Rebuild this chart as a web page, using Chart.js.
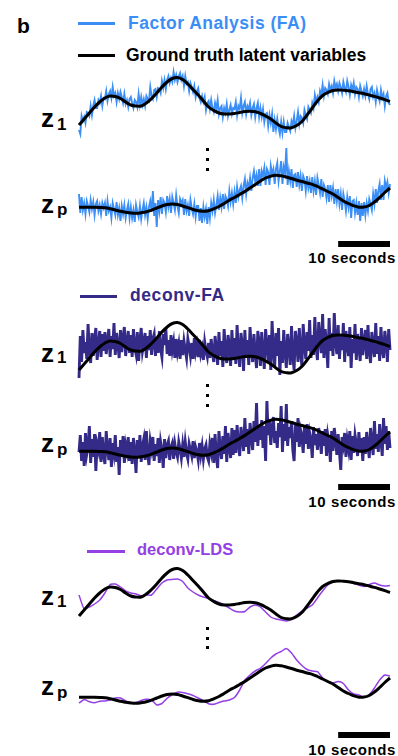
<!DOCTYPE html>
<html>
<head>
<meta charset="utf-8">
<script src="https://cdn.jsdelivr.net/npm/chart.js@4.4.1/dist/chart.umd.min.js"></script>
<style>
  body { margin: 0; background: #fff; width: 398px; height: 756px; position: relative; overflow: hidden;
         font-family: "Liberation Sans", Arial, sans-serif; font-weight: bold; }
  .t { position: absolute; white-space: nowrap; }
  .key { position: absolute; height: 3px; }
  .dot { position: absolute; width: 3px; height: 3px; background: #000; left: 206px; }
  .z { position: absolute; left: 41px; font-size: 26px; line-height: 26px; }
  .sub { position: absolute; left: 57px; font-size: 17px; line-height: 17px; }
  .sec { position: absolute; right: 2px; font-size: 15px; line-height: 15px; letter-spacing: 0.6px; }
  canvas { position: absolute; left: 74px; }
</style>
</head>
<body>

<div class="t" style="left:17px;top:15px;font-size:21px;line-height:21px;">b</div>

<!-- panel 1 legend -->
<div class="key" style="left:78px;top:22px;width:37px;background:#3a8ef6;"></div>
<div class="t" style="left:128px;top:15px;font-size:17.5px;line-height:17.5px;letter-spacing:0.5px;color:#3a8ef6;">Factor Analysis (FA)</div>
<div class="key" style="left:78px;top:54px;width:37px;background:#000;"></div>
<div class="t" style="left:126px;top:47px;font-size:17.5px;line-height:17.5px;color:#000;">Ground truth latent variables</div>

<!-- panel 2 legend -->
<div class="key" style="left:80px;top:295px;width:37px;background:#342a87;"></div>
<div class="t" style="left:130px;top:287px;font-size:17.5px;line-height:17.5px;letter-spacing:0.6px;color:#342a87;">deconv-FA</div>

<!-- panel 3 legend -->
<div class="key" style="left:87px;top:550px;width:38px;height:2.5px;background:#9440e4;"></div>
<div class="t" style="left:137px;top:541px;font-size:16.5px;line-height:16.5px;color:#9440e4;">deconv-LDS</div>

<!-- row labels -->
<div class="z" style="top:105px;">z</div><div class="sub" style="top:116px;">1</div>
<div class="z" style="top:191px;">z</div><div class="sub" style="top:201px;">p</div>
<div class="z" style="top:340px;">z</div><div class="sub" style="top:349px;">1</div>
<div class="z" style="top:430px;">z</div><div class="sub" style="top:441px;">p</div>
<div class="z" style="top:583px;">z</div><div class="sub" style="top:593px;">1</div>
<div class="z" style="top:673px;">z</div><div class="sub" style="top:684px;">p</div>

<!-- vertical ellipsis between z1 and zp -->
<div class="dot" style="top:148px;"></div><div class="dot" style="top:158px;"></div><div class="dot" style="top:168px;"></div>
<div class="dot" style="top:384px;"></div><div class="dot" style="top:394px;"></div><div class="dot" style="top:404px;"></div>
<div class="dot" style="top:627px;"></div><div class="dot" style="top:637px;"></div><div class="dot" style="top:646px;"></div>

<!-- scale bar captions -->
<div class="sec" style="top:250px;">10 seconds</div>
<div class="sec" style="top:494px;">10 seconds</div>
<div class="sec" style="top:742px;">10 seconds</div>

<canvas id="c1a" width="321" height="90" style="top:55px;"></canvas>
<canvas id="c1b" width="321" height="112" style="top:140px;"></canvas>
<canvas id="c2a" width="321" height="90" style="top:300px;"></canvas>
<canvas id="c2b" width="321" height="112" style="top:384px;"></canvas>
<canvas id="c3a" width="321" height="90" style="top:546px;"></canvas>
<canvas id="c3b" width="321" height="112" style="top:630px;"></canvas>

<script>
// time axis (seconds) and scale bar span
const tMax = 60;
const barFrom = 50, barTo = 60;

// ground truth latents, 1 s apart
const gtStep = 1;
const gtZ1 = [10,16,22,28,33,37,39,38.5,36.5,33,30,
  29,29,32,36.5,42,48,53,56.5,57.5,55.5,
  51,45.5,40,34,28,24.5,22,21,21,21.5,
  22.5,23.5,23.8,23.3,21.5,19,16,12,8.5,7.3,
  7.2,9.5,13.5,20,27,34,39.5,42.5,44.5,45,
  44.8,44.3,43.3,42.3,41.3,40,38.6,37,35.3,33.5];
const gtZp = [12.7,12.8,12.8,12.7,12.5,12.2,11.3,10,8.7,7.8,7,
  6.7,7.3,8.2,9.8,12,14,15.5,16,15.5,14,
  12.3,10.5,9.3,8.8,9.3,11.2,13.5,16.5,19.8,22.5,
  25.5,28.5,32,35.5,39,42,43.8,44.7,44.2,43,
  41.5,39.8,38.5,37,35.7,33.5,31,28.5,26,22.5,
  19,16.5,14.2,12.8,12.9,14.5,18,22.5,27.5,32];

// FA and deconv-FA estimates, 0.25 s apart (one row = 5 s)
const noisyStep = 0.25;
const faZ1 = [
  5,1,19,14,18,12,23,22,19,29,20,29,35,27,27,35,32,39,29,37,
  36,44,34,41,44,37,48,39,42,33,42,36,43,38,32,41,31,35,28,36,
  38,32,27,35,33,28,41,30,38,30,36,29,39,36,34,48,39,36,45,46,
  38,47,46,42,54,47,55,46,55,59,52,57,53,63,55,60,53,59,62,55,
  59,49,59,51,53,44,52,48,43,49,38,44,47,37,33,39,33,38,25,32,
  34,26,35,27,23,32,26,35,21,27,29,18,27,22,31,19,25,30,21,27,
  26,33,20,29,26,37,22,29,33,21,29,26,32,20,27,31,18,27,32,18,
  27,18,26,13,21,22,9,20,12,21,3,15,6,16,7,1,13,2,13,3,
  3,12,8,4,14,10,19,7,14,23,11,19,17,12,25,20,16,28,25,22,
  32,27,40,33,38,33,44,40,50,39,47,45,41,51,45,49,42,54,47,51,
  44,52,48,42,53,47,43,54,48,40,50,45,52,41,48,46,38,49,44,39,
  46,39,49,41,36,46,48,38,42,33,45,39,34,45,37,41,29,39,42,32,
  30];
const faZp = [
  26,7,23,10,17,6,19,14,8,20,11,18,5,16,19,9,15,6,17,12,
  17,4,19,9,13,2,17,11,5,18,5,12,-1,14,6,15,2,10,16,2,
  13,2,10,-2,15,8,3,14,1,10,17,5,13,1,13,19,8,29,4,17,
  -7,20,9,23,6,20,17,8,24,13,21,7,23,17,10,25,14,7,21,17,
  20,5,21,9,15,4,20,12,6,16,3,14,14,-1,12,-3,13,3,11,-4,
  13,2,17,9,20,7,15,24,10,22,13,26,11,24,21,14,29,18,27,16,
  28,17,33,23,30,34,22,34,41,26,37,32,42,29,42,49,38,45,34,51,
  34,49,44,52,35,51,48,35,54,46,51,36,51,57,39,49,59,36,53,47,
  72,35,49,39,51,32,45,46,33,48,35,44,29,44,40,29,44,32,39,27,
  43,29,39,25,42,35,27,41,23,35,31,22,35,18,35,24,32,16,31,19,
  31,16,26,10,26,19,9,23,13,24,2,19,20,7,17,5,19,-1,17,4,
  18,5,17,9,21,16,10,26,16,31,17,29,36,20,35,20,39,32,38,27,
  36];
const dfaZ1 = [
  2,44,18,50,27,38,21,56,30,17,47,24,41,52,20,35,49,23,46,29,
  48,26,39,51,23,44,31,57,25,47,36,22,50,28,42,53,24,38,49,27,
  45,23,51,33,26,48,19,40,52,29,37,47,22,44,30,50,25,41,46,24,
  43,27,49,31,23,46,35,52,26,40,24,45,30,38,22,41,28,36,21,40,
  25,39,30,22,41,33,24,37,21,42,28,35,23,40,26,32,20,38,29,23,
  37,22,41,27,18,44,31,15,48,24,39,13,51,29,17,45,35,14,50,21,
  42,16,55,28,13,47,35,9,50,22,40,15,53,31,18,46,26,12,49,37,
  14,48,27,11,51,36,19,45,10,59,30,13,47,24,52,5,39,17,50,28,
  12,46,33,15,54,24,10,49,38,18,52,27,14,56,35,21,48,29,60,22,
  45,25,63,33,20,58,40,27,66,22,51,35,12,62,29,47,24,67,38,26,
  55,21,44,30,57,18,49,36,24,53,12,41,27,56,20,46,33,19,52,25,
  38,50,21,55,29,17,48,34,23,57,26,44,19,53,31,22,49,37,18,51,
  30];
const dfaZp = [
  12,29,3,22,-2,31,10,18,38,1,25,7,30,-7,20,14,32,2,27,9,
  0,33,15,4,26,-3,21,11,29,2,17,-11,24,8,28,1,19,12,27,3,
  22,0,26,13,-9,24,6,29,2,18,25,4,33,10,-1,23,15,27,3,20,
  8,26,1,22,14,-4,25,6,19,23,4,17,21,5,20,12,7,22,15,6,
  19,7,22,11,5,20,14,8,23,6,17,12,4,21,9,18,5,15,19,7,
  3,20,12,26,1,30,8,-4,33,15,5,28,10,38,2,31,18,6,36,9,
  34,11,39,20,8,37,25,13,46,17,35,10,41,28,14,43,22,61,18,39,
  24,44,16,38,3,63,29,42,19,36,47,21,33,16,41,27,58,12,40,23,
  60,18,37,26,43,14,3,39,22,46,17,34,28,11,38,20,40,15,31,24,
  6,37,19,30,14,36,25,10,33,18,35,8,29,21,2,33,13,36,24,9,
  30,12,-6,27,19,31,7,24,15,33,4,28,11,29,20,8,32,14,26,3,
  27,10,32,18,6,36,22,9,43,15,30,12,40,24,8,46,20,38,14,33,
  16];

// deconv-LDS estimates, 1 s apart
const ldsStep = 1;
const ldsZ1 = [31,17,19,22,26,33,41.5,42,39,35,33,
  32,30,31,31,37,43,46,46.5,47,44.5,
  38,34,31,29,27.5,25.5,23.5,21,18,15,
  14,14.5,19,21,19,14,9,7,6,5,
  7,11,15,18,21,28,35,41,44,45,
  45,44,42.5,41,39.5,41.5,43,41,40,40.5];
const ldsZp = [7,10.5,8.3,7.3,8.8,9,10,12,12,9,7.5,
  7.5,9.5,10.7,10,5,6.5,11.7,15.5,17.8,17.5,
  16.3,14.5,12,9.3,6.3,5.7,7.5,9,10,12.5,
  20,30,35,39,41.7,46.5,52,56,58.5,61.5,
  57,50,44.5,40.5,39,38.3,32,28,27,28.5,
  26.5,20,16,15,12.7,15.5,22,30,35,34];

const colFA = '#3a8ef6';
const colDFA = '#342a87';
const colLDS = '#9440e4';

function pts(values, step) {
  return values.map((v, i) => ({ x: i * step, y: v }));
}

// black scale bar under the zp rows, placed on the time scale
const scaleBar = {
  id: 'scaleBar',
  afterDraw(chart, args, opts) {
    if (opts.top == null) return;
    const xs = chart.scales.x;
    const x0 = xs.getPixelForValue(barFrom);
    const x1 = xs.getPixelForValue(barTo);
    const ctx = chart.ctx;
    ctx.save();
    ctx.fillStyle = '#000';
    ctx.fillRect(x0, opts.top, x1 - x0, 6);
    ctx.restore();
  }
};

function makeChart(id, estimate, color, width, tension, truth, yMin, yMax, barTop) {
  return new Chart(document.getElementById(id), {
    type: 'line',
    data: {
      datasets: [
        {
          data: pts(truth, gtStep),
          borderColor: '#000',
          borderWidth: 3,
          tension: 0.4,
          order: 0,
          clip: false
        },
        {
          data: estimate,
          borderColor: color,
          borderWidth: width,
          tension: tension,
          order: 1,
          clip: false
        }
      ]
    },
    options: {
      responsive: false,
      animation: false,
      events: [],
      layout: { padding: { left: 5, right: 5, top: 0, bottom: 0 } },
      elements: { point: { radius: 0 } },
      scales: {
        x: { type: 'linear', min: 0, max: tMax, display: false },
        y: { min: yMin, max: yMax, display: false }
      },
      plugins: {
        legend: { display: false },
        tooltip: { enabled: false },
        scaleBar: { top: barTop }
      }
    },
    plugins: [scaleBar]
  });
}

makeChart('c1a', pts(faZ1, noisyStep), colFA, 1.9, 0, gtZ1, -10, 80, null);
makeChart('c1b', pts(faZp, noisyStep), colFA, 1.9, 0, gtZp, -32, 80, 101);
makeChart('c2a', pts(dfaZ1, noisyStep), colDFA, 2.9, 0, gtZ1, -10, 80, null);
makeChart('c2b', pts(dfaZp, noisyStep), colDFA, 2.9, 0, gtZp, -32, 80, 100);
makeChart('c3a', pts(ldsZ1, ldsStep), colLDS, 1.5, 0.2, gtZ1, -10, 80, null);
makeChart('c3b', pts(ldsZp, ldsStep), colLDS, 1.5, 0.2, gtZp, -32, 80, 102);
</script>
</body>
</html>
